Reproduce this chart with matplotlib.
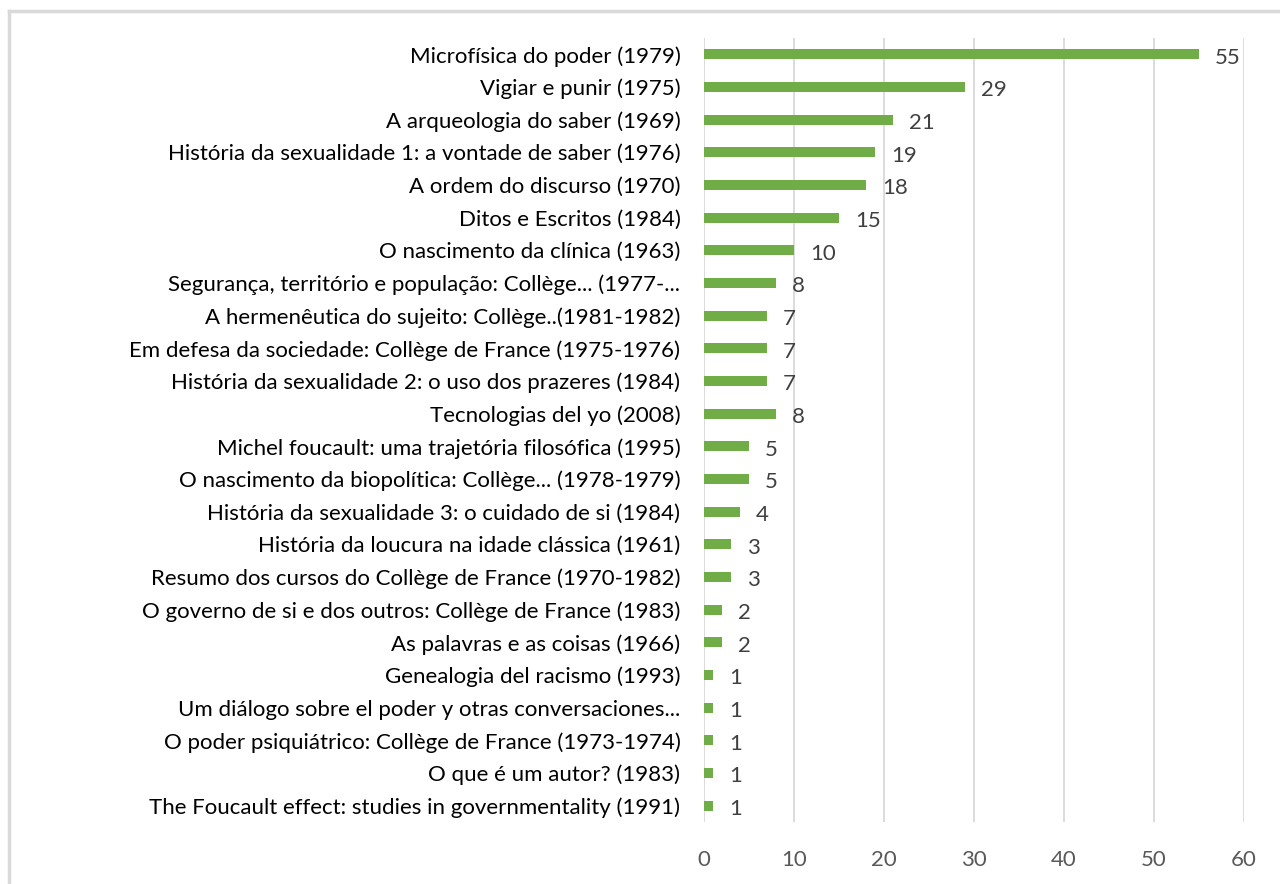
import matplotlib.pyplot as plt
from matplotlib.lines import Line2D

titles = [
    "Microfísica do poder (1979)",
    "Vigiar e punir (1975)",
    "A arqueologia do saber (1969)",
    "História da sexualidade 1: a vontade de saber (1976)",
    "A ordem do discurso (1970)",
    "Ditos e Escritos (1984)",
    "O nascimento da clínica (1963)",
    "Segurança, território e população: Collège... (1977-...",
    "A hermenêutica do sujeito: Collège..(1981-1982)",
    "Em defesa da sociedade: Collège de France (1975-1976)",
    "História da sexualidade 2: o uso dos prazeres (1984)",
    "Tecnologias del yo (2008)",
    "Michel foucault: uma trajetória filosófica (1995)",
    "O nascimento da biopolítica: Collège... (1978-1979)",
    "História da sexualidade 3: o cuidado de si (1984)",
    "História da loucura na idade clássica (1961)",
    "Resumo dos cursos do Collège de France (1970-1982)",
    "O governo de si e dos outros: Collège de France (1983)",
    "As palavras e as coisas (1966)",
    "Genealogia del racismo (1993)",
    "Um diálogo sobre el poder y otras conversaciones...",
    "O poder psiquiátrico: Collège de France (1973-1974)",
    "O que é um autor? (1983)",
    "The Foucault effect: studies in governmentality (1991)",
]
counts = [55, 29, 21, 19, 18, 15, 10, 8, 7, 7, 7, 8, 5, 5, 4, 3, 3, 2, 2, 1, 1, 1, 1, 1]
xticks = [0, 10, 20, 30, 40, 50, 60]

plt.rcParams['font.family'] = ['Lato', 'DejaVu Sans']

fig = plt.figure(figsize=(12.8, 8.84), dpi=100)
ax = fig.add_axes([0.55, 0.0701, 0.4219, 0.887])

pos = list(range(len(titles)))
ax.barh(pos, counts, height=0.3, color="#70AD47", zorder=3)
for p, c in zip(pos, counts):
    ax.text(c + 1.75, p + 0.1, str(c), va="center", ha="left",
            fontsize=16, color="#404040")

ax.set_xlim(0, 60)
ax.set_ylim(len(titles) - 0.5, -0.5)
ax.set_xticks(xticks)
ax.set_yticks(pos)
ax.set_yticklabels(titles)
ax.tick_params(axis="y", length=0, pad=17, labelsize=16, labelcolor="#000000")
ax.tick_params(axis="x", length=0, pad=20, labelsize=16, labelcolor="#595959")
ax.grid(axis="x", color="#D9D9D9", linewidth=1.3, zorder=0)
for s in ax.spines.values():
    s.set_visible(False)

# light frame around chart (left and top edges visible)
fig.add_artist(Line2D([9 / 1280, 9 / 1280], [0, 1 - 11 / 884],
                      transform=fig.transFigure, color="#D9D9D9", linewidth=2.5))
fig.add_artist(Line2D([9 / 1280, 1], [1 - 11 / 884, 1 - 11 / 884],
                      transform=fig.transFigure, color="#D9D9D9", linewidth=2.5))

fig.savefig("out.png", dpi=100)
